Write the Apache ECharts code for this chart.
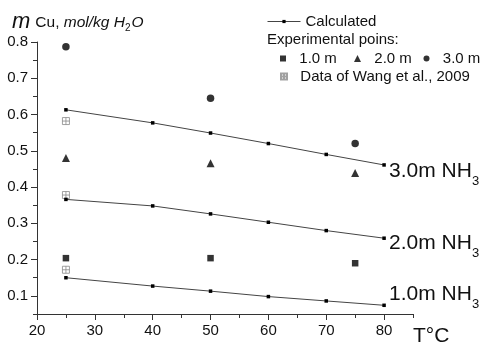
<!DOCTYPE html>
<html>
<head>
<meta charset="utf-8">
<script src="https://cdn.jsdelivr.net/npm/echarts@6/dist/echarts.min.js"></script>
<style>
html,body{margin:0;padding:0;background:#fff;}
#c{width:485px;height:347px;}
</style>
</head>
<body>
<div id="c"></div>
<script>
// ---- data ----
var tempCalc = [25, 40, 50, 60, 70, 80];
var calc1 = [0.150, 0.127, 0.113, 0.098, 0.086, 0.074];
var calc2 = [0.366, 0.348, 0.326, 0.303, 0.280, 0.259];
var calc3 = [0.613, 0.577, 0.549, 0.520, 0.490, 0.461];

var tempExp = [25, 50, 75];
var exp1 = [0.204, 0.204, 0.190];
var exp2 = [0.480, 0.466, 0.439];
var exp3 = [0.787, 0.645, 0.520];

var tempWang = [25, 25, 25];
var wang = [0.582, 0.378, 0.172];

var xTicks = [20, 30, 40, 50, 60, 70, 80];
var xMinorTicks = [25, 35, 45, 55, 65, 75, 85];
var yTicks = [0.1, 0.2, 0.3, 0.4, 0.5, 0.6, 0.7, 0.8];
var yMinorTicks = [0.05, 0.15, 0.25, 0.35, 0.45, 0.55, 0.65, 0.75];

var curveLabels = ['1.0m NH', '2.0m NH', '3.0m NH'];
var expNames = ['1.0 m', '2.0 m', '3.0 m'];

// ---- helpers ----
function pairs(xs, ys) { return xs.map(function (x, i) { return [x, ys[i]]; }); }
var FONT = 'Liberation Sans, Arial, sans-serif';
var INK = '#111';
var AX = '#333';

var labelRich = {
  a: { fontSize: 21, fontFamily: FONT, color: INK, lineHeight: 21, verticalAlign: 'top' },
  s: { fontSize: 13, fontFamily: FONT, color: INK, lineHeight: 13, verticalAlign: 'top', padding: [14, 0, 0, 0] }
};

function calcSeries(data, idx, off) {
  return {
    name: 'Calculated', type: 'line', data: pairs(tempCalc, data),
    symbol: 'rect', symbolSize: 3.5, z: 3,
    itemStyle: { color: '#000' },
    lineStyle: { color: '#444', width: 1 },
    endLabel: {
      show: true, distance: 5, offset: off,
      formatter: '{a|' + curveLabels[idx] + '}{s|3}',
      rich: labelRich
    },
    labelLayout: { hideOverlap: false },
    emphasis: { disabled: true }, animation: false
  };
}

function expSeries(name, data, symbol, size) {
  return {
    name: name, type: 'scatter', data: pairs(tempExp, data),
    symbol: symbol, symbolSize: size, z: 4,
    itemStyle: { color: '#000' },
    emphasis: { disabled: true }, animation: false
  };
}

var legendText = { fontSize: 15, fontFamily: FONT, color: INK };

var option = {
  animation: false,
  textStyle: { fontFamily: FONT },
  title: {
    left: 12, top: 11, padding: 0,
    text: '{m|m} {n|Cu, }{i|mol/kg H}{sub|2}{i|O}',
    textStyle: {
      fontWeight: 'normal',
      rich: {
        m: { fontSize: 22, fontStyle: 'italic', fontWeight: 'normal', fontFamily: FONT, color: INK, verticalAlign: 'bottom' },
        n: { fontSize: 15.5, fontWeight: 'normal', fontFamily: FONT, color: INK, verticalAlign: 'bottom', padding: [0, 0, 2, 0] },
        i: { fontSize: 15.5, fontStyle: 'italic', fontWeight: 'normal', fontFamily: FONT, color: INK, verticalAlign: 'bottom', padding: [0, 0, 2, 0] },
        sub: { fontSize: 10, fontWeight: 'normal', fontFamily: FONT, color: INK, verticalAlign: 'bottom', padding: [0, 1, 0, 0] }
      }
    }
  },
  legend: [
    { data: ['Calculated'], left: 267, top: 14, padding: 0, itemWidth: 33, itemHeight: 4,
      lineStyle: { width: 1 },
      selectedMode: false, textStyle: legendText },
    { data: [expNames[0]], left: 280, top: 51, padding: 0, itemWidth: 6, itemHeight: 6,
      selectedMode: false, textStyle: legendText, formatter: '  {name}' },
    { data: [expNames[1]], left: 354, top: 51, padding: 0, itemWidth: 7, itemHeight: 7,
      selectedMode: false, textStyle: legendText, formatter: '  {name}' },
    { data: [expNames[2]], left: 423.5, top: 51, padding: 0, itemWidth: 6, itemHeight: 6,
      selectedMode: false, textStyle: legendText, formatter: '  {name}' },
    { data: ['Data of Wang et al., 2009'], left: 280, top: 69, padding: 0, itemWidth: 6, itemHeight: 6,
      selectedMode: false, textStyle: legendText, formatter: '  {name}' }
  ],
  graphic: [
    { type: 'text', left: 267, top: 32, style: { text: 'Experimental poins:', font: '15px ' + FONT, fill: INK } }
  ],
  grid: { left: 37, right: 72, top: 42, bottom: 31, containLabel: false },
  xAxis: [
    {
      type: 'value', min: 20, max: 85, position: 'bottom',
      name: 'T°C', nameLocation: 'end', nameGap: 0,
      nameTextStyle: { fontSize: 21, fontFamily: FONT, color: INK, verticalAlign: 'top', align: 'left', padding: [12, 0, 0, 0] },
      axisLine: { lineStyle: { color: AX, width: 1 } },
      axisTick: { show: true, length: 6, customValues: xTicks, lineStyle: { color: AX } },
      axisLabel: { customValues: xTicks, fontSize: 15, fontFamily: FONT, color: INK, margin: 9 },
      splitLine: { show: false }
    },
    {
      type: 'value', min: 20, max: 85, position: 'bottom',
      axisLine: { show: false },
      axisTick: { show: true, length: 4, customValues: xMinorTicks, lineStyle: { color: AX } },
      axisLabel: { show: false },
      splitLine: { show: false }
    }
  ],
  yAxis: [
    {
      type: 'value', min: 0.05, max: 0.8, position: 'left',
      axisLine: { show: true, lineStyle: { color: AX, width: 1 } },
      axisTick: { show: true, length: 6, customValues: yTicks, lineStyle: { color: AX } },
      axisLabel: { customValues: yTicks, fontSize: 15, fontFamily: FONT, color: INK, margin: 9,
        formatter: function (v) { return v.toFixed(1); } },
      splitLine: { show: false }
    },
    {
      type: 'value', min: 0.05, max: 0.8, position: 'left',
      axisLine: { show: false },
      axisTick: { show: true, length: 4, customValues: yMinorTicks, lineStyle: { color: AX } },
      axisLabel: { show: false },
      splitLine: { show: false }
    }
  ],
  series: [
    calcSeries(calc3, 2, [0, 6]),
    calcSeries(calc2, 1, [0, 5]),
    calcSeries(calc1, 0, [0, -11]),
    expSeries(expNames[0], exp1, 'rect', 6.5),
    expSeries(expNames[1], exp2, 'triangle', 8),
    expSeries(expNames[2], exp3, 'circle', 7.5),
    {
      name: 'Data of Wang et al., 2009', type: 'scatter', data: pairs(tempWang, wang),
      symbol: 'path://M0,0L10,0L10,10L0,10Z M5,0L5,10 M0,5L10,5', symbolSize: 7, z: 2,
      itemStyle: { color: 'rgba(255,255,255,0)', borderColor: '#8a8a8a', borderWidth: 1 },
      emphasis: { disabled: true }, animation: false
    }
  ]
};

var chart = echarts.init(document.getElementById('c'), null, { renderer: 'canvas' });
chart.setOption(option);
</script>
</body>
</html>
